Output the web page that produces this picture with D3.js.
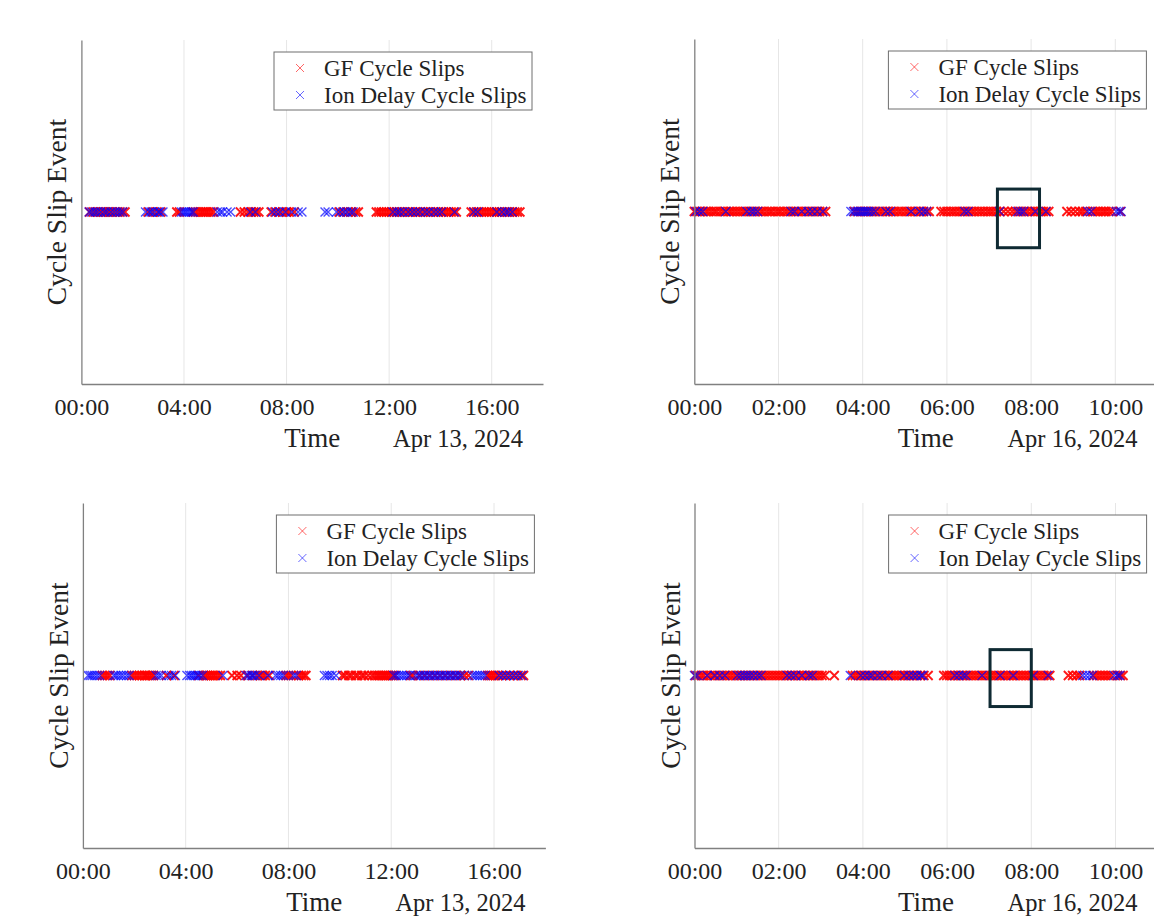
<!DOCTYPE html>
<html lang="en">
<head>
<meta charset="utf-8">
<title>Cycle slip events</title>
<script src="https://d3js.org/d3.v7.min.js"></script>
<style>
  body { margin: 0; background: #fff; }
  svg { display: block; }
</style>
</head>
<body>
<div id="main"></div>
<script>

// hours after midnight of each day
var gfA = [0.32, 0.45, 0.55, 0.66, 0.78, 0.86, 0.95, 1.04, 1.12, 1.22, 1.35, 1.48, 1.6, 1.7,
  2.6, 2.78, 2.95, 3.1,
  3.72, 3.82, 4.35, 4.45, 4.55, 4.65, 4.72, 4.8, 4.88, 4.95, 5.05, 5.15,
  6.2, 6.35, 6.5, 6.62, 6.72, 6.82, 6.92,
  7.4, 7.55, 7.7, 7.85, 8.0, 8.1, 8.3,
  10.05, 10.2, 10.4, 10.55, 10.7, 10.8,
  11.5, 11.6, 11.7, 11.8, 11.9, 12.0, 12.1, 12.2, 12.3, 12.4, 12.5, 12.62, 12.72, 12.82, 12.92, 13.02,
  13.12, 13.22, 13.32, 13.42, 13.52, 13.62, 13.72, 13.82, 13.92, 14.02, 14.12, 14.22, 14.32, 14.42, 14.52, 14.62,
  15.2, 15.3, 15.4, 15.5, 15.6, 15.7, 15.8, 15.9, 16.0, 16.1, 16.2, 16.3, 16.4, 16.5, 16.6, 16.7, 16.8, 16.9, 17.0, 17.1]
var ionA = [0.3, 0.4, 0.52, 0.62, 0.75, 0.9, 1.0, 1.15, 1.28, 1.4, 1.52, 1.62,
  2.5, 2.65, 2.72, 2.85, 3.0, 3.05, 3.18,
  3.9, 3.98, 4.05, 4.12, 4.2, 4.28, 4.36, 5.3, 5.42, 5.5, 5.68, 5.82,
  6.58, 6.78,
  7.45, 7.6, 7.75, 7.95, 8.2, 8.45, 8.6,
  9.5, 9.62, 9.95, 10.1, 10.25, 10.35, 10.5, 10.6,
  12.15, 12.3, 12.4, 12.55, 12.75, 12.9, 13.05, 13.2, 13.4, 13.55, 13.75, 13.9, 14.05, 14.55,
  15.3, 15.45, 16.2, 16.4, 16.55, 16.65, 16.8]

var gfB = [0.00, 0.06, 0.13, 0.19, 0.27, 0.33, 0.40, 0.47, 0.53, 0.61, 0.68, 0.74, 0.82, 0.88, 0.95, 1.02,
  1.09, 1.16, 1.22, 1.30, 1.37, 1.44, 1.51, 1.58, 1.64, 1.72, 1.79, 1.85, 1.93, 2.00, 2.06, 2.14,
  2.21, 2.28, 2.35, 2.42, 2.48, 2.56, 2.63, 2.70, 2.77, 2.84, 2.91, 2.98, 3.05, 3.12,
  3.80, 3.88, 3.95, 4.03, 4.10, 4.18, 4.25, 4.32, 4.40, 4.47, 4.55, 4.62, 4.70, 4.77, 4.85, 4.92,
  5.00, 5.07, 5.14, 5.22, 5.29, 5.37, 5.44, 5.52, 5.58,
  5.86, 5.93, 6.00, 6.08, 6.15, 6.22, 6.30, 6.37, 6.44, 6.52, 6.59, 6.66, 6.74, 6.81, 6.88, 6.96,
  7.03, 7.10, 7.18, 7.25, 7.35, 7.45, 7.55, 7.63, 7.70, 7.78, 7.85, 7.92, 8.00, 8.07, 8.14, 8.22,
  8.29, 8.36, 8.42,
  8.85, 8.95, 9.05, 9.15, 9.22, 9.30, 9.45, 9.52, 9.58, 9.65, 9.72, 9.78, 9.85, 9.92, 10.12]
var ionB = [0.03, 0.12, 0.2, 0.75, 1.25, 1.35, 1.42, 1.5, 2.3, 2.38, 2.55, 2.7, 2.8, 2.92, 3.05,
  3.72, 3.78, 3.84, 3.9, 3.95, 4.0, 4.05, 4.1, 4.15, 4.22, 4.3, 4.55, 4.65, 5.15, 5.35, 5.45, 5.52,
  6.42, 6.5, 7.25, 7.68, 7.75, 7.82, 8.1, 8.35,
  9.35, 9.42, 10.02, 10.08, 10.14]

var gfC = [0.75, 0.85, 0.95, 1.05, 1.9, 2.0, 2.1, 2.2, 2.3, 2.4, 2.45, 2.52, 2.6, 2.68, 2.75, 3.25, 3.55,
  4.5, 4.7, 4.78, 4.85, 4.92, 5.0, 5.08, 5.15, 5.25, 5.35,
  5.8, 6.0, 6.15,
  6.4, 6.6, 6.78, 6.9, 7.0, 7.1, 7.25,
  7.9, 8.0, 8.1, 8.4, 8.5, 8.6, 8.68,
  10.1, 10.2, 10.35, 10.45, 10.6, 10.7, 10.85, 10.95, 11.1, 11.25, 11.35,
  11.45, 11.52, 11.6, 11.68, 11.75, 11.82, 11.9, 11.98, 12.05, 12.15, 12.75, 12.85,
  13.1, 13.3, 13.5, 13.7, 13.9, 14.1, 14.3, 14.5, 14.7, 14.85, 15.0,
  15.75, 15.82, 15.9, 15.97, 16.05,
  16.15, 16.3, 16.45, 16.6, 16.75, 16.9, 17.05, 17.15]
var ionC = [0.2, 0.28, 0.36, 0.45, 0.55, 0.65, 1.2, 1.28, 1.38, 1.48, 1.58, 1.7, 1.8, 2.85, 2.95, 3.05,
  3.35, 3.45, 3.6,
  4.05, 4.15, 4.22, 4.3, 4.38, 4.45, 4.55, 4.65, 5.45,
  6.35, 6.45, 6.55, 6.62, 6.7, 6.85, 7.2,
  7.5, 7.6, 7.7, 7.8, 8.2, 8.3,
  9.4, 9.5, 9.6, 9.7, 9.85,
  12.1, 12.2, 12.3, 12.4, 12.5, 12.6, 12.7,
  12.95, 13.05, 13.15, 13.25, 13.35, 13.45, 13.55, 13.65, 13.75, 13.85, 13.95, 14.05, 14.15,
  14.25, 14.35, 14.45, 14.55, 14.65, 14.75,
  15.15, 15.25, 15.35, 15.45, 15.55, 15.65,
  16.2, 16.35, 16.5, 16.65, 16.8, 16.95, 17.1]

var gfD = [0.02, 0.09, 0.16, 0.22, 0.30, 0.37, 0.44, 0.50, 0.58, 0.65, 0.72, 0.79, 0.86, 0.93, 1.00, 1.07,
  1.14, 1.21, 1.28, 1.35, 1.42, 1.49, 1.56, 1.63, 1.70, 1.77, 1.84, 1.91, 1.98, 2.05, 2.12, 2.19,
  2.26, 2.33, 2.40, 2.47, 2.54, 2.61, 2.68, 2.75, 2.82, 2.89, 2.96, 3.03, 3.10, 3.32,
  3.75, 3.82, 3.89, 3.96, 4.03, 4.10, 4.17, 4.24, 4.31, 4.38, 4.45, 4.52, 4.59, 4.66, 4.73, 4.80,
  4.87, 4.94, 5.01, 5.08, 5.15, 5.22, 5.29, 5.36, 5.45, 5.55,
  5.92, 5.99, 6.06, 6.13, 6.20, 6.27, 6.34, 6.41, 6.48, 6.55, 6.62, 6.69, 6.76, 6.83, 6.90, 6.97,
  7.04, 7.11, 7.18, 7.25, 7.32, 7.39, 7.46, 7.53, 7.60, 7.67, 7.74, 7.81, 7.88, 7.95, 8.02, 8.09,
  8.16, 8.23, 8.30, 8.37, 8.44,
  8.88, 8.98, 9.08, 9.15, 9.48, 9.55, 9.62, 9.69, 9.76, 9.83, 9.90, 10.05, 10.12, 10.18]
var ionD = [0.0, 0.06, 0.3, 0.48, 0.6, 0.72, 1.02, 1.1, 1.18, 1.25, 1.32, 1.4, 1.5, 1.58,
  2.2, 2.3, 2.4, 2.55, 2.72, 2.8,
  3.7, 3.95, 4.05, 4.15, 4.22, 4.35, 4.45, 4.6, 4.98, 5.1, 5.2, 5.28, 5.38, 5.42,
  6.18, 6.28, 6.38, 6.45, 6.83, 7.26, 7.57, 8.05, 8.4,
  9.22, 9.3, 9.38, 9.45, 9.97, 10.05, 10.1]

var ticksLeft = [0, 4, 8, 12, 16]
var ticksRight = [0, 2, 4, 6, 8, 10]
var dayLeft = "Apr 13, 2024"
var dayRight = "Apr 16, 2024"
var seriesNames = ["GF Cycle Slips", "Ion Delay Cycle Slips"]
var seriesColors = ["#ff0000", "#0000ff"]
// highlighted window [h0, h1, yLow, yHigh]
var boxB = [7.2, 8.2, 0.79, 1.13]
var boxD = [7.02, 8.0, 0.82, 1.15]

var panels = [
  {gf: gfA, ion: ionA, ticks: ticksLeft, xMax: 18, day: dayLeft, box: null, left: 81.4, right: 543, top: 40, bottom: 384},
  {gf: gfB, ion: ionB, ticks: ticksRight, xMax: 11, day: dayRight, box: boxB, left: 694.3, right: 1157.4, top: 39, bottom: 384},
  {gf: gfC, ion: ionC, ticks: ticksLeft, xMax: 18, day: dayLeft, box: null, left: 82.9, right: 545.4, top: 503, bottom: 848},
  {gf: gfD, ion: ionD, ticks: ticksRight, xMax: 11, day: dayRight, box: boxD, left: 694.5, right: 1157.6, top: 503, bottom: 848}
]

var width = 1154, height = 918
var serif = "'Liberation Serif', 'Times New Roman', serif"

var svg = d3.select("#main").append("svg")
  .attr("width", width)
  .attr("height", height)

var xMark = "M-4.5,-4.5L4.5,4.5M-4.5,4.5L4.5,-4.5"
var markOpacity = [0.9, 0.7]
var markWidth = [1.9, 1.4]

panels.forEach(function(p) {
  var x = d3.scaleLinear().domain([0, p.xMax]).range([p.left, p.right])
  var y = d3.scaleLinear().domain([0, 2]).range([p.bottom, p.top])
  var g = svg.append("g")

  // grid
  g.append("g").selectAll("line")
    .data(p.ticks.filter(function(t) { return t > 0 }))
    .enter().append("line")
    .attr("x1", function(d) { return x(d) })
    .attr("x2", function(d) { return x(d) })
    .attr("y1", p.top)
    .attr("y2", p.bottom)
    .attr("stroke", "#e6e6e6")
    .attr("stroke-width", 1)

  // markers: GF first, ion delay on top
  var series = [p.gf, p.ion]
  series.forEach(function(vals, i) {
    g.append("g").selectAll("path")
      .data(vals)
      .enter().append("path")
      .attr("d", xMark)
      .attr("transform", function(d) { return "translate(" + x(d) + "," + y(1) + ")" })
      .attr("fill", "none")
      .attr("stroke", seriesColors[i])
      .attr("stroke-opacity", markOpacity[i])
      .attr("stroke-width", markWidth[i])
  })

  // axes
  var gx = g.append("g")
    .attr("transform", "translate(0," + p.bottom + ")")
    .call(d3.axisBottom(x).tickValues(p.ticks).tickSize(0)
      .tickFormat(function(d) { return (d < 10 ? "0" : "") + d + ":00" }))
  gx.attr("font-family", serif).attr("font-size", 24)
  gx.select(".domain").attr("stroke", "#808080").attr("stroke-width", 1.3)
  gx.selectAll("text").attr("y", 31).attr("dy", null).attr("fill", "#222")

  var gy = g.append("g")
    .attr("transform", "translate(" + p.left + ",0)")
    .call(d3.axisLeft(y).tickValues([]).tickSizeOuter(0))
  gy.select(".domain").attr("stroke", "#808080").attr("stroke-width", 1.3)

  // labels
  g.append("text")
    .attr("x", (p.left + p.right) / 2)
    .attr("y", p.bottom + 63)
    .attr("text-anchor", "middle")
    .attr("font-family", serif)
    .attr("font-size", 27)
    .attr("fill", "#222")
    .text("Time")

  g.append("text")
    .attr("x", p.right - 20)
    .attr("y", p.bottom + 63)
    .attr("text-anchor", "end")
    .attr("font-family", serif)
    .attr("font-size", 24.5)
    .attr("fill", "#222")
    .text(p.day)

  g.append("text")
    .attr("transform", "translate(" + (p.left - 15) + "," + ((p.top + p.bottom) / 2) + ") rotate(-90)")
    .attr("text-anchor", "middle")
    .attr("font-family", serif)
    .attr("font-size", 27.5)
    .attr("fill", "#222")
    .text("Cycle Slip Event")

  // highlight box
  if (p.box) {
    g.append("rect")
      .attr("x", x(p.box[0]))
      .attr("y", y(p.box[3]))
      .attr("width", x(p.box[1]) - x(p.box[0]))
      .attr("height", y(p.box[2]) - y(p.box[3]))
      .attr("fill", "none")
      .attr("stroke", "#0f2a33")
      .attr("stroke-width", 3)
  }

  // legend
  var lw = 258, lh = 58
  var lx = p.right - 11 - lw, ly = p.top + 12
  var leg = g.append("g").attr("transform", "translate(" + lx + "," + ly + ")")
  leg.append("rect")
    .attr("width", lw)
    .attr("height", lh)
    .attr("fill", "#fff")
    .attr("stroke", "#6e6e6e")
    .attr("stroke-width", 1)
  seriesNames.forEach(function(name, i) {
    var cy = 16 + i * 27
    leg.append("path")
      .attr("d", "M-4,-4L4,4M-4,4L4,-4")
      .attr("transform", "translate(26," + cy + ")")
      .attr("fill", "none")
      .attr("stroke", seriesColors[i])
      .attr("stroke-opacity", 0.6)
      .attr("stroke-width", 1)
    leg.append("text")
      .attr("x", 50)
      .attr("y", cy + 8)
      .attr("font-family", serif)
      .attr("font-size", 23)
      .attr("fill", "#222")
      .text(name)
  })
})

</script>
</body>
</html>
